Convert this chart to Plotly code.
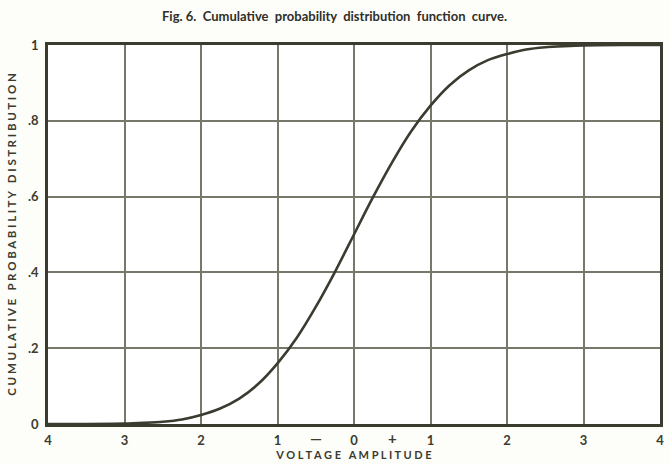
import plotly.graph_objects as go

# Curve readings: voltage amplitude (in sigma units) vs cumulative probability
amplitude = [-4.0, -3.5, -3.0, -2.75, -2.5, -2.25, -2.0, -1.75, -1.5, -1.25,
             -1.0, -0.75, -0.5, -0.25, 0.0, 0.25, 0.5, 0.75, 1.0, 1.25,
             1.5, 1.75, 2.0, 2.25, 2.5, 2.75, 3.0, 3.5, 4.0]
cum_prob = [0.0, 0.0, 0.001, 0.003, 0.006, 0.012, 0.024, 0.041, 0.067, 0.106,
            0.160, 0.227, 0.309, 0.401, 0.500, 0.599, 0.691, 0.773, 0.840, 0.894,
            0.933, 0.960, 0.976, 0.988, 0.994, 0.997, 0.999, 1.0, 1.0]

# Axis ticks
x_tickvals = [-4, -3, -2, -1, 0, 1, 2, 3, 4]
x_ticktext = ["4", "3", "2", "1", "0", "1", "2", "3", "4"]
y_tickvals = [0, 0.2, 0.4, 0.6, 0.8, 1.0]
y_ticktext = ["0", ".2", ".4", ".6", ".8", "1"]

# Sign markers between the centre ticks
sign_x = [-0.5, 0.5]
sign_text = ["\u2014", "+"]

INK = "#3b3b30"
GRID = "#77776a"
FONT = "Lato"

fig = go.Figure()
fig.add_trace(go.Scatter(
    x=amplitude, y=cum_prob, mode="lines",
    line=dict(color=INK, width=2.6, shape="spline", smoothing=0.8),
    hoverinfo="skip", showlegend=False,
))

for sx, st in zip(sign_x, sign_text):
    fig.add_annotation(
        x=sx, y=0, xref="x", yref="y", text="<b>" + st + "</b>", showarrow=False,
        yanchor="top", yshift=-4, borderpad=0,
        font=dict(family=FONT, size=15, color=INK),
    )

fig.update_layout(
    width=669, height=465,
    margin=dict(l=48, r=5, t=45, b=41),
    paper_bgcolor="#fdfdf9", plot_bgcolor="#ffffff",
    title=dict(
        text="<b>Fig. 6.  Cumulative  probability  distribution  function  curve.</b>",
        x=0.5, xanchor="center", y=0.965, yanchor="middle",
        font=dict(family=FONT, size=13, color="#2f2f2a"),
    ),
    font=dict(family=FONT, color=INK),
)

fig.update_xaxes(
    range=[-4, 4], tickvals=x_tickvals, ticktext=x_ticktext,
    showgrid=True, gridcolor=GRID, gridwidth=1.5,
    showline=True, linecolor=INK, linewidth=2.5, mirror=True,
    zeroline=False, ticks="", ticklabelstandoff=3,
    tickfont=dict(family=FONT, size=13, color=INK, weight="bold"),
    title=dict(text="<b>V O L T A G E   A M P L I T U D E</b>",
               font=dict(family=FONT, size=11, color=INK), standoff=3),
)
fig.update_yaxes(
    range=[0, 1], tickvals=y_tickvals, ticktext=y_ticktext,
    showgrid=True, gridcolor=GRID, gridwidth=1.5,
    showline=True, linecolor=INK, linewidth=2.5, mirror=True,
    zeroline=False, ticks="", ticklabelstandoff=4,
    tickfont=dict(family=FONT, size=13, color=INK, weight="bold"),
    title=dict(text="<b>C U M U L A T I V E   P R O B A B I L I T Y   D I S T R I B U T I O N</b>",
               font=dict(family=FONT, size=11.5, color=INK), standoff=9),
)

fig.write_html("out.html")
